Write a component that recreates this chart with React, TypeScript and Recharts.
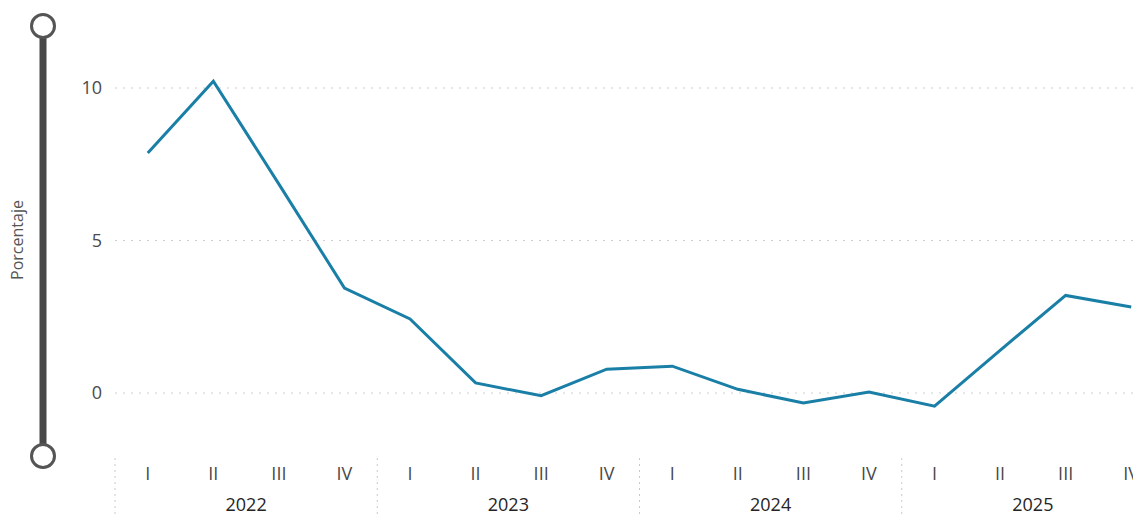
import { LineChart, Line, XAxis, YAxis, CartesianGrid } from 'recharts';

const years = ['2022', '2023', '2024', '2025'];
const quarters = ['I', 'II', 'III', 'IV'];
const values = [
  7.87, 10.22, 6.85, 3.44,
  2.43, 0.33, -0.09, 0.78,
  0.88, 0.12, -0.33, 0.03,
  -0.43, 1.4, 3.2, 2.82,
];
const yTicks = [0, 5, 10];

const data = values.map((v, i) => ({
  idx: i,
  q: quarters[i % 4],
  year: years[Math.floor(i / 4)],
  value: v,
}));

const W = 1180;
const H = 525;
const LEFT = 115;
const Y_W = 40;
const RIGHT = 16;
const BAND = (W - LEFT - RIGHT) / data.length;
const FONT = '"Segoe UI", "Open Sans", sans-serif';
const TICK_COLOR = '#4a4a4a';

const YearTick = (props: any) => {
  const { x, y, payload } = props;
  const label = years[Math.floor(payload.value / 4)];
  const sep = x - 2 * BAND;
  return (
    <g>
      <line
        x1={sep}
        x2={sep}
        y1={y - 40}
        y2={H}
        stroke="#c8c8c8"
        strokeDasharray="2 4"
      />
      <text
        x={x}
        y={y}
        dy="0.71em"
        textAnchor="middle"
        fill="#252423"
        fontSize={18}
        fontFamily={FONT}
      >
        {label}
      </text>
    </g>
  );
};

const Slider = () => (
  <svg
    width={70}
    height={H}
    style={{ position: 'absolute', left: 0, top: 0, pointerEvents: 'none' }}
  >
    <rect x={39.5} y={26} width={7} height={430} fill="#484848" />
    <circle cx={43} cy={26} r={11.5} fill="#fff" stroke="#555" strokeWidth={3} />
    <circle cx={43} cy={456} r={11.5} fill="#fff" stroke="#555" strokeWidth={3} />
    <text
      x={17}
      y={240}
      transform="rotate(-90 17 240)"
      textAnchor="middle"
      dominantBaseline="central"
      fill="#555"
      fontSize={16}
      fontFamily={FONT}
    >
      Porcentaje
    </text>
  </svg>
);

export default function App() {
  return (
    <div
      style={{
        position: 'relative',
        width: 1141,
        height: H,
        margin: -8,
        overflow: 'hidden',
        background: '#fff',
      }}
    >
      <LineChart
        width={W}
        height={H}
        data={data}
        margin={{ top: 27, right: RIGHT, left: LEFT - Y_W, bottom: 0 }}
      >
        <CartesianGrid
          vertical={false}
          horizontalValues={yTicks}
          stroke="#cfcfcf"
          strokeDasharray="2 6"
        />
        <XAxis
          dataKey="idx"
          type="number"
          domain={[-0.5, 15.5]}
          ticks={data.map((d) => d.idx)}
          tickFormatter={(i: number) => quarters[i % 4]}
          axisLine={false}
          tickLine={false}
          tickSize={0}
          tickMargin={13}
          height={30}
          interval={0}
          tick={{ fill: TICK_COLOR, fontSize: 18, fontFamily: FONT }}
        />
        <XAxis
          xAxisId="year"
          dataKey="idx"
          type="number"
          domain={[-0.5, 15.5]}
          ticks={[1.5, 5.5, 9.5, 13.5]}
          axisLine={false}
          tickLine={false}
          tickSize={0}
          tickMargin={14}
          height={41}
          interval={0}
          tick={<YearTick />}
        />
        <YAxis
          domain={[-2, 12]}
          ticks={yTicks}
          width={Y_W}
          axisLine={false}
          tickLine={false}
          tickSize={0}
          tickMargin={13}
          interval={0}
          tick={{ fill: TICK_COLOR, fontSize: 18, fontFamily: FONT }}
        />
        <Line
          dataKey="value"
          stroke="#1a7fa6"
          strokeWidth={3}
          dot={false}
          activeDot={false}
          isAnimationActive={false}
        />
      </LineChart>
      <Slider />
    </div>
  );
}
